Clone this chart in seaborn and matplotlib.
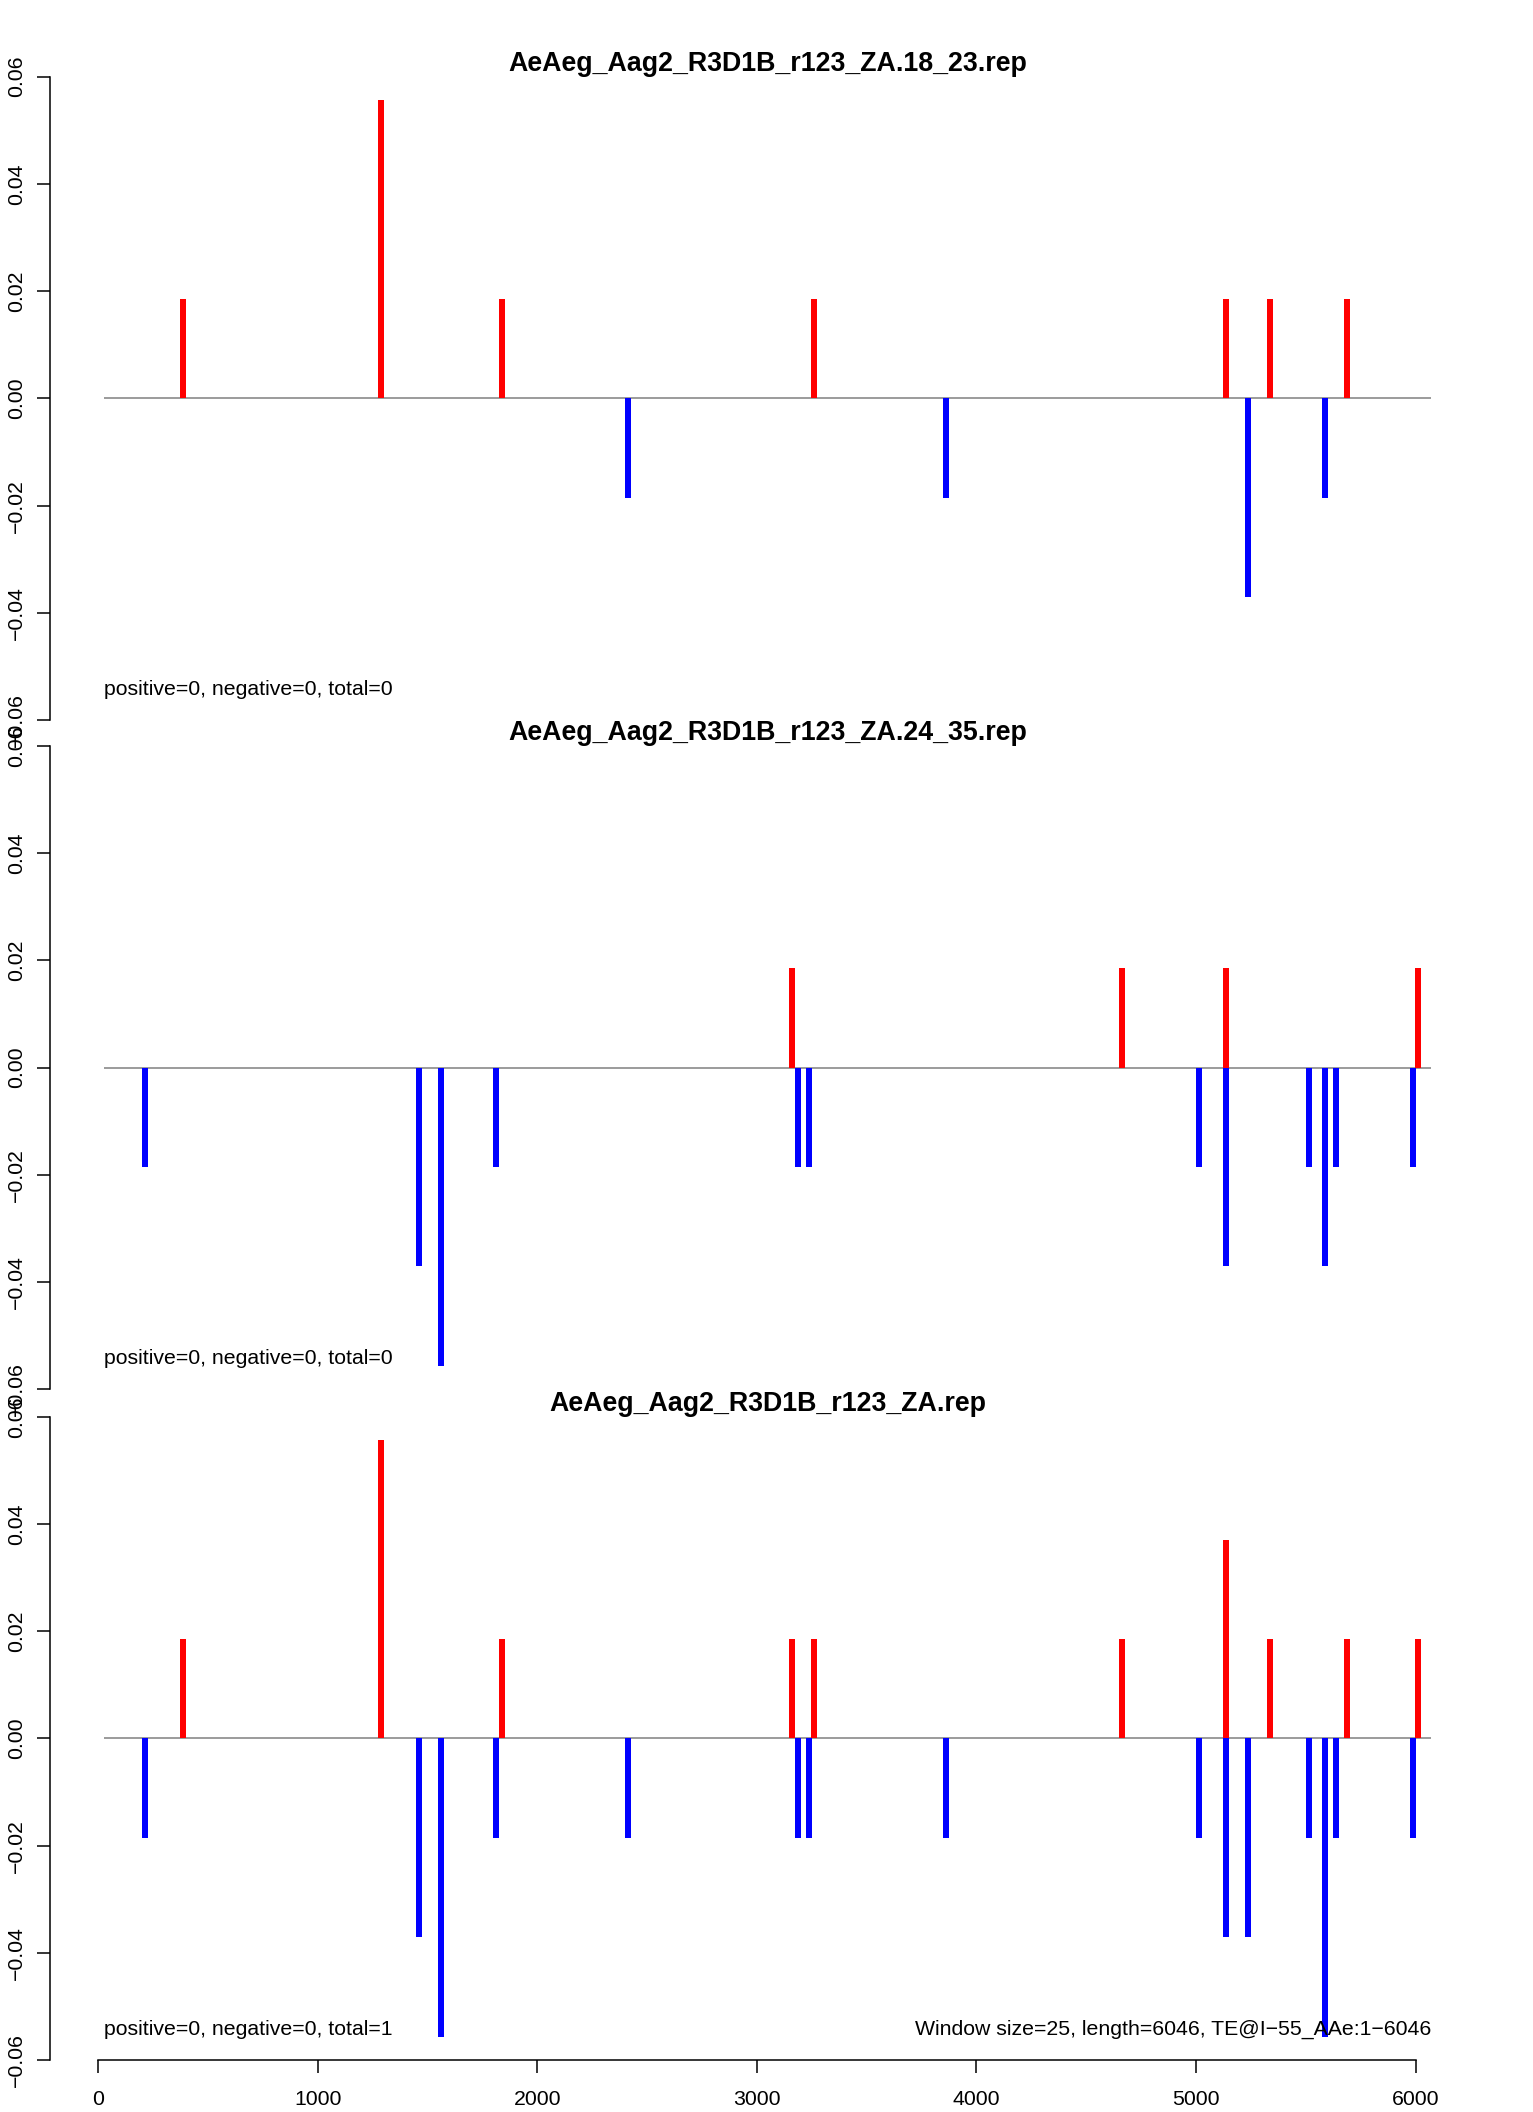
import matplotlib
matplotlib.use("Agg")
import matplotlib.pyplot as plt
import seaborn as sns
import pandas as pd

# panel titles
titles = [
    "AeAeg_Aag2_R3D1B_r123_ZA.18_23.rep",
    "AeAeg_Aag2_R3D1B_r123_ZA.24_35.rep",
    "AeAeg_Aag2_R3D1B_r123_ZA.rep",
]

# bar positions (bp) and heights per panel
pos_18_23 = [387.5, 1287.5, 1837.5, 2412.5, 3262.5, 3862.5, 5137.5, 5237.5,
             5337.5, 5587.5, 5687.5]
val_18_23 = [0.0185, 0.0556, 0.0185, -0.0185, 0.0185, -0.0185, 0.0185, -0.0370,
             0.0185, -0.0185, 0.0185]

pos_24_35 = [212.5, 1462.5, 1562.5, 1812.5, 3162.5, 3187.5, 3237.5, 4662.5,
             5012.5, 5137.5, 5137.5, 5512.5, 5587.5, 5637.5, 5987.5, 6012.5]
val_24_35 = [-0.0185, -0.0370, -0.0556, -0.0185, 0.0185, -0.0185, -0.0185, 0.0185,
             -0.0185, 0.0185, -0.0370, -0.0185, -0.0370, -0.0185, -0.0185, 0.0185]

pos_all = [212.5, 387.5, 1287.5, 1462.5, 1562.5, 1812.5, 1837.5, 2412.5, 3162.5,
           3187.5, 3237.5, 3262.5, 3862.5, 4662.5, 5012.5, 5137.5, 5137.5, 5237.5,
           5337.5, 5512.5, 5587.5, 5637.5, 5687.5, 5987.5, 6012.5]
val_all = [-0.0185, 0.0185, 0.0556, -0.0370, -0.0556, -0.0185, 0.0185, -0.0185, 0.0185,
           -0.0185, -0.0185, 0.0185, -0.0185, 0.0185, -0.0185, 0.0370, -0.0370, -0.0370,
           0.0185, -0.0185, -0.0556, -0.0185, 0.0185, -0.0185, 0.0185]

counts_text = [
    "positive=0, negative=0, total=0",
    "positive=0, negative=0, total=0",
    "positive=0, negative=0, total=1",
]
info_text = "Window size=25, length=6046, TE@I\u221255_AAe:1\u22126046"

seq_start = 25
seq_end = 6071
y_ticks = [-0.06, -0.04, -0.02, 0.00, 0.02, 0.04, 0.06]
x_ticks = [0, 1000, 2000, 3000, 4000, 5000, 6000]

panels = [(pos_18_23, val_18_23), (pos_24_35, val_24_35), (pos_all, val_all)]

sns.set_style("ticks")
plt.rcParams['font.family'] = ['Liberation Sans', 'DejaVu Sans']

W, H = 1533, 2112
fig = plt.figure(figsize=(W / 100, H / 100), dpi=100)

left_px, right_px = 50.4, 1484.3
tops_px = [76.7, 746.0, 1416.8]
height_px = 643.3
span = seq_end - seq_start
xlim = (seq_start - 0.04 * span, seq_end + 0.04 * span)

base_fs = 15.3
line_w = 1.1

for i, (pos, val) in enumerate(panels):
    top = tops_px[i]
    ax = fig.add_axes([left_px / W, 1 - (top + height_px) / H,
                       (right_px - left_px) / W, height_px / H])
    df = pd.DataFrame({'pos': pos, 'val': val})
    df['sign'] = ['pos' if v > 0 else 'neg' for v in df['val']]

    ax.hlines(0, seq_start, seq_end, color='#8a8a8a', linewidth=1.2, zorder=1)
    for sign, col in [('pos', '#ff0000'), ('neg', '#0000ff')]:
        sub = df[df['sign'] == sign]
        ax.vlines(sub['pos'], 0, sub['val'], color=col, linewidth=4.32,
                  capstyle='butt', zorder=2)

    ax.set_xlim(*xlim)
    ax.set_ylim(-0.06, 0.06)
    ax.set_yticks(y_ticks)
    ax.set_yticklabels([f"{t:.2f}".replace("-", "\u2212") if t != 0 else "0.00"
                        for t in y_ticks], rotation=90, va='center')
    ax.tick_params(axis='y', length=9.4, width=line_w, pad=8, labelsize=base_fs,
                   color='black', labelcolor='black')
    sns.despine(ax=ax, top=True, right=True, bottom=(i < 2))
    ax.spines['left'].set_linewidth(line_w)
    ax.spines['left'].set_color('black')
    ax.set_facecolor('white')
    ax.grid(False)

    if i < 2:
        ax.set_xticks([])
    else:
        ax.set_xticks(x_ticks)
        ax.set_xticklabels([str(t) for t in x_ticks])
        ax.spines['bottom'].set_bounds(0, 6000)
        ax.spines['bottom'].set_linewidth(line_w)
        ax.spines['bottom'].set_color('black')
        ax.tick_params(axis='x', length=9.4, width=line_w, pad=12, labelsize=base_fs,
                       color='black', labelcolor='black')
        ax.text(seq_end, -0.0543, info_text, ha='right', va='center',
                fontsize=base_fs, color='black')

    ax.set_title(titles[i], fontsize=19.3, fontweight='bold', pad=2.5, color='black')
    ax.text(seq_start, -0.0543, counts_text[i], ha='left', va='center',
            fontsize=base_fs, color='black')

fig.savefig("out.png", dpi=100, facecolor='white')
